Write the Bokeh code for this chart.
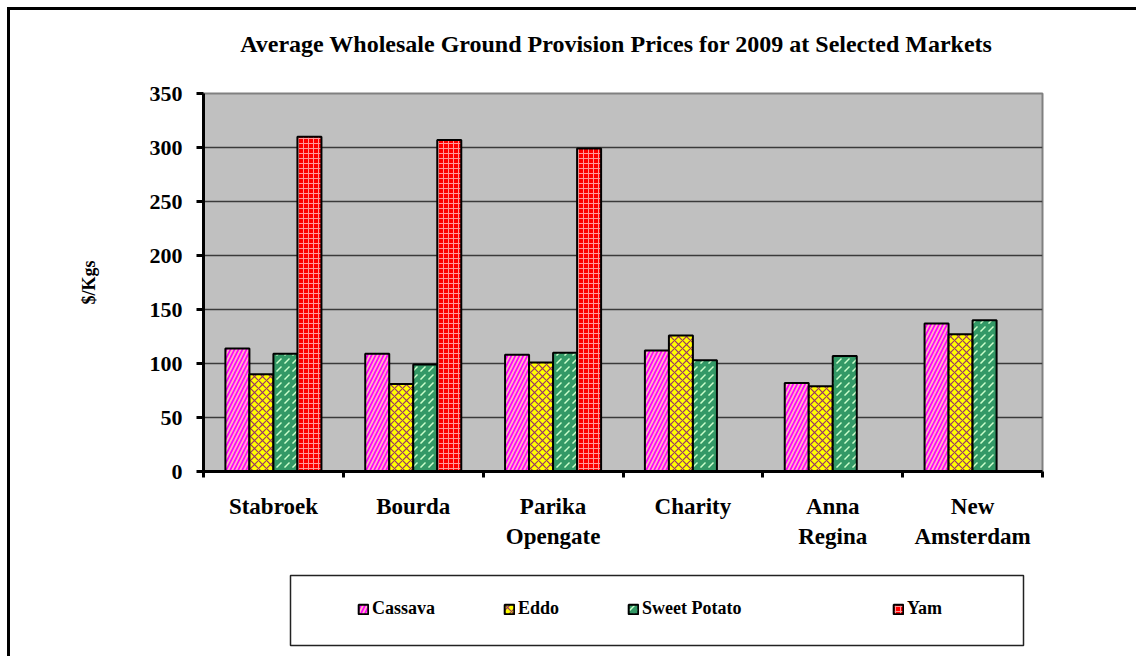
from bokeh.plotting import figure
from bokeh.layouts import column
from bokeh.models import (Range1d, FixedTicker, Legend, LegendItem, Label, ColumnDataSource,
                          BoxAnnotation)
from bokeh.embed import file_html
from bokeh.resources import INLINE

# ---------------- data ----------------
markets = ["Stabroek", "Bourda", "Parika\nOpengate", "Charity", "Anna\nRegina", "New\nAmsterdam"]
cassava = [114, 109, 108, 112, 82, 137]
eddo = [90, 81, 101, 126, 79, 127]
sweet_potato = [109, 99, 110, 103, 107, 140]
yam = [310, 307, 299, None, None, None]
series_names = ["Cassava", "Eddo", "Sweet Potato", "Yam"]
y_ticks = [0, 50, 100, 150, 200, 250, 300, 350]

title_text = "Average Wholesale Ground Provision Prices  for 2009 at Selected Markets"
y_label = "$/Kgs"

# ---------------- styles ----------------
FONT = "Liberation Serif"
styles = [
    dict(fill_color="#FF00FF", hatch_pattern="right_diagonal_line", hatch_color="#FFB6C1",
         hatch_scale=8, hatch_weight=1.8),
    dict(fill_color="#FFFF00", hatch_pattern="diagonal_cross", hatch_color="#993366",
         hatch_scale=8, hatch_weight=1.2),
    dict(fill_color="#339966", hatch_pattern="right_diagonal_dash", hatch_color="#CCFFCC",
         hatch_scale=8, hatch_weight=1.5),
    dict(fill_color="#FF0000", hatch_pattern="cross", hatch_color="#FF9999",
         hatch_scale=5, hatch_weight=1),
]

W = 1126
H0, H1, H2 = 50, 505, 91
LB, RB = 193, 94


def blank_panel(height):
    f = figure(width=W, height=height, output_backend="svg", toolbar_location=None,
               x_range=Range1d(0, 1), y_range=Range1d(0, 1),
               x_axis_type=None, y_axis_type=None,
               min_border_left=LB, min_border_right=RB, min_border_top=0, min_border_bottom=0)
    f.grid.visible = False
    f.background_fill_color = "white"
    f.border_fill_color = "white"
    f.outline_line_color = None
    return f


# ---------------- title panel ----------------
p0 = blank_panel(H0)
p0.add_layout(Label(x=416, y=17, x_units="screen", y_units="screen", text=title_text,
                    text_align="center", text_baseline="middle", text_font=FONT,
                    text_font_size="24px", text_font_style="bold", text_color="black"))

# ---------------- chart ----------------
p = figure(width=W, height=H1, output_backend="svg", toolbar_location=None,
           x_range=Range1d(0, 6), y_range=Range1d(0, 350),
           min_border_left=LB, min_border_right=RB, min_border_top=33, min_border_bottom=94)
p.background_fill_color = "#C0C0C0"
p.border_fill_color = "white"
p.outline_line_color = "#808080"
p.outline_line_width = 2

bar_w = 0.1717
all_series = [cassava, eddo, sweet_potato, yam]
for j, vals in enumerate(all_series):
    xs, tops = [], []
    for i, v in enumerate(vals):
        if v is None:
            continue
        xs.append(i + 0.5 + (j - 1.5) * bar_w)
        tops.append(v)
    src = ColumnDataSource(dict(x=xs, top=tops))
    p.vbar(x="x", top="top", bottom=0, width=bar_w, source=src,
           line_color="black", line_width=2, **styles[j])

p.xgrid.grid_line_color = None
p.ygrid.grid_line_color = "#3a3a3a"
p.ygrid.grid_line_width = 1.5
p.ygrid.ticker = FixedTicker(ticks=y_ticks)

ya = p.yaxis[0]
ya.ticker = FixedTicker(ticks=y_ticks, minor_ticks=[])
ya.axis_line_width = 3
ya.axis_line_color = "black"
ya.major_tick_in = 0
ya.major_tick_out = 7
ya.major_tick_line_width = 3
ya.minor_tick_line_color = None
ya.major_label_text_font = FONT
ya.major_label_text_font_size = "22px"
ya.major_label_text_font_style = "bold"
ya.major_label_text_color = "black"
ya.major_label_standoff = 14
ya.axis_label = y_label
ya.axis_label_text_font = FONT
ya.axis_label_text_font_size = "18px"
ya.axis_label_text_font_style = "bold"
ya.axis_label_text_color = "black"
ya.axis_label_standoff = 48

xa = p.xaxis[0]
centers = [i + 0.5 for i in range(len(markets))]
xa.ticker = FixedTicker(ticks=centers, minor_ticks=list(range(len(markets) + 1)))
xa.major_label_overrides = {c: m for c, m in zip(centers, markets)}
xa.axis_line_width = 3
xa.axis_line_color = "black"
xa.major_tick_line_color = None
xa.minor_tick_in = 0
xa.minor_tick_out = 6
xa.minor_tick_line_width = 3
xa.minor_tick_line_color = "black"
xa.major_label_text_font = FONT
xa.major_label_text_font_size = "23px"
xa.major_label_text_font_style = "bold"
xa.major_label_text_color = "black"
xa.major_label_standoff = 16

# ---------------- legend panel ----------------
p2 = blank_panel(H2)
p2.add_layout(BoxAnnotation(left=87, right=820, top=81, bottom=11,
                            left_units="screen", right_units="screen",
                            top_units="screen", bottom_units="screen",
                            fill_alpha=0, line_color="#222222", line_alpha=1.0,
                            line_width=1.5))

legend_x = [154, 300, 424, 689]
for name, st, lx in zip(series_names, styles, legend_x):
    # hidden proxy bar, only used for the legend swatch
    r = p2.vbar(x=[0.5], top=[0.5], bottom=[0.4], width=0.01, line_color="black",
                line_width=2, visible=False, **st)
    lg = Legend(items=[LegendItem(label=name, renderers=[r])], location=(lx, 37),
                orientation="horizontal", border_line_color=None, background_fill_alpha=0,
                inactive_fill_alpha=0,
                padding=0, margin=0, glyph_width=12, glyph_height=12, label_height=17,
                label_standoff=3, label_text_font=FONT, label_text_font_size="18px",
                label_text_font_style="bold", label_text_color="black",
                label_text_baseline="middle")
    p2.add_layout(lg, "center")

layout = column(p0, p, p2, spacing=0,
                styles={"border-left": "3px solid black", "border-top": "3px solid black",
                        "margin-left": "7px", "margin-top": "7px"})

open("out.html", "w").write(file_html(layout, INLINE))
